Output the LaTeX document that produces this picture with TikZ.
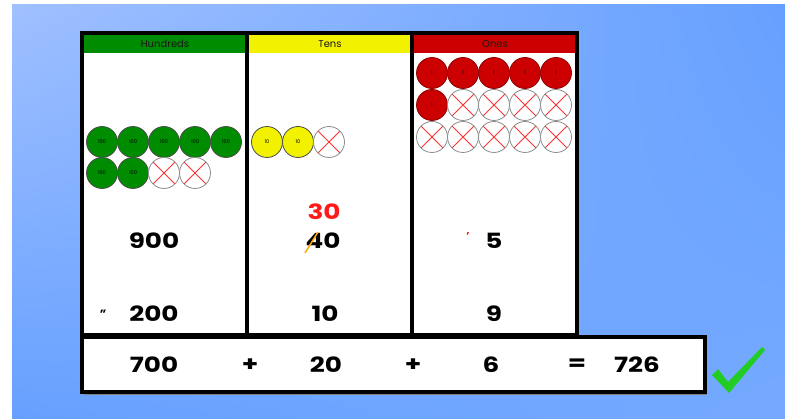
\documentclass[tikz,border=0pt]{standalone}
\usepackage{fontspec}
\setmainfont{Poppins}
\usetikzlibrary{shadings}
\definecolor{bgblue}{HTML}{66A0FF}
\definecolor{bglight}{HTML}{A0C0FF}
\definecolor{hgreen}{HTML}{008C00}
\definecolor{tyellow}{HTML}{F2F200}
\definecolor{ored}{HTML}{CC0000}
\definecolor{tickgreen}{HTML}{22CC22}
\newcommand{\wide}[1]{\scalebox{1.25}[1]{#1}}
\tikzset{
  counter/.style={circle, draw=black!70, line width=0.8pt, minimum size=31pt, inner sep=0pt, font=\fontsize{5}{5}\selectfont},
  hundred/.style={counter, fill=hgreen},
  ten/.style={counter, fill=tyellow},
  one/.style={counter, fill=ored, draw=ored!70!black},
  crossed/.style={counter, fill=white, draw=black!45,
    path picture={\draw[red!80, line width=1pt]
      (path picture bounding box.north west) -- (path picture bounding box.south east)
      (path picture bounding box.north east) -- (path picture bounding box.south west);}},
  digits/.style={font=\fontsize{21}{21}\selectfont\bfseries, inner sep=1pt},
  header/.style={font=\fontsize{10}{10}\selectfont, text=black!90, inner sep=0pt},
}
\begin{document}
\begin{tikzpicture}[x=1pt, y=-1pt]
% Hintergrund
\useasboundingbox (0,0) rectangle (785,419);
\fill[white] (0,0) rectangle (785,419);
\shade[upper left=bglight, upper right=bgblue, lower left=bgblue, lower right=bgblue!90!white] (12,5) rectangle (785,419);

% Tabelle
\filldraw[fill=white, line width=3.5pt] (82,33) rectangle (577,335);
\fill[hgreen] (84,35) rectangle (246,53);
\fill[tyellow] (248,35) rectangle (411,53);
\fill[ored] (413,35) rectangle (575,53);
\draw[line width=3.5pt] (247,33) -- (247,335);
\draw[line width=3.5pt] (412,33) -- (412,335);
\node[header] (hhead) at (165,44) {Hundreds};
\node[header] (thead) at (330,44) {Tens};
\node[header] (ohead) at (495,44) {Ones};

% Hunderter
\foreach \i in {1,...,5}
  \node[hundred] (h\i) at ({71+31*\i},142) {100};
\node[hundred] (h6) at (102,173) {100};
\node[hundred] (h7) at (133,173) {100};
\node[crossed] (hx1) at (164,173) {};
\node[crossed] (hx2) at (195,173) {};

% Zehner
\node[ten] (t1) at (267,142) {10};
\node[ten] (t2) at (298,142) {10};
\node[crossed] (tx1) at (329,142) {};

% Einer
\foreach \i in {1,...,5}
  \node[one] (o\i) at ({401+31*\i},73) {1};
\node[one] (o6) at (432,105) {1};
\foreach \i in {2,...,5}
  \node[crossed] (ox\i) at ({401+31*\i},105) {};
\foreach \i in {1,...,5}
  \node[crossed] (oy\i) at ({401+31*\i},137) {};

% Zahlen
\node[digits] (hnum) at (154,241) {\wide{900}};
\node[digits] (tnum) at (323,241) {\wide{40}};
\draw[orange!70!yellow, line width=1.5pt] (305,253) -- (318,232);
\node[digits, text=red!90] (tnew) at (324,212) {\wide{30}};
\node[digits] (onum) at (494,241) {\wide{5}};
\node[font=\fontsize{10}{10}\selectfont\bfseries, text=red] (omark) at (468,236) {'};
\node[digits] (hsub) at (154,314) {\wide{200}};
\node[font=\fontsize{12}{12}\selectfont\bfseries] (hmark) at (103,314) {"};
\node[digits] (tsub) at (325,314) {\wide{10}};
\node[digits] (osub) at (494,314) {\wide{9}};

% Ergebnis
\fill[black!50] (84,339) rectangle (707,395);
\filldraw[fill=white, line width=3.5pt] (82,337) rectangle (705,392);
\node[digits] (r1) at (154,365) {\wide{700}};
\node[digits] (p1) at (250,365) {\wide{+}};
\node[digits] (r2) at (326,365) {\wide{20}};
\node[digits] (p2) at (413,365) {\wide{+}};
\node[digits] (r3) at (491,365) {\wide{6}};
\node[digits] (eq) at (577,365) {\wide{=}};
\node[digits] (res) at (637,365) {\wide{726}};

% Haken
\fill[tickgreen] (712,375) -- (718,369) -- (728,382) -- (762,347) -- (765,350) -- (729,393) -- cycle;
\end{tikzpicture}
\end{document}
